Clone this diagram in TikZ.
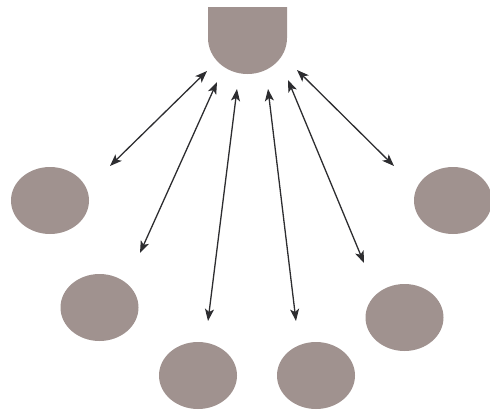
\documentclass[tikz,border=0pt]{standalone}
\usetikzlibrary{shapes.geometric,arrows.meta}
\definecolor{blob}{RGB}{160,146,143}
\definecolor{arr}{RGB}{45,45,48}
\tikzset{
  blobnode/.style={ellipse, fill=blob, draw=none, minimum width=78pt, minimum height=67pt, inner sep=0pt},
  link/.style={draw=arr, line width=1.3pt, {Stealth[length=12pt,width=9pt,inset=3pt]}-{Stealth[length=12pt,width=9pt,inset=3pt]}}
}
\begin{document}
\begin{tikzpicture}[x=1pt,y=-1pt]
\useasboundingbox (0,0) rectangle (490,410);
% top hub
\fill[blob] (208,7) -- (287,7) -- (287,38) arc[start angle=0, end angle=180, x radius=39.5, y radius=36] -- cycle;
\node[inner sep=0pt, minimum size=0pt] (hub) at (247.5,40) {};
% outer nodes
\node[blobnode] (e1) at (50,200.5) {};
\node[blobnode] (e2) at (99.5,307.5) {};
\node[blobnode] (e3) at (198,375.5) {};
\node[blobnode] (e4) at (316,375.5) {};
\node[blobnode] (e5) at (404.5,317.5) {};
\node[blobnode] (e6) at (453,200.5) {};
% arrow ends
\coordinate (h1) at (207,71);
\coordinate (h2) at (217,82);
\coordinate (h3) at (237,89);
\coordinate (h4) at (268,89);
\coordinate (h5) at (288,80);
\coordinate (h6) at (297,70);
\coordinate (t1) at (110,166);
\coordinate (t2) at (140,253);
\coordinate (t3) at (208,321);
\coordinate (t4) at (296,321);
\coordinate (t5) at (364,263);
\coordinate (t6) at (394,166);
\draw[link] (h1) -- (t1);
\draw[link] (h2) -- (t2);
\draw[link] (h3) -- (t3);
\draw[link] (h4) -- (t4);
\draw[link] (h5) -- (t5);
\draw[link] (h6) -- (t6);
\end{tikzpicture}
\end{document}
